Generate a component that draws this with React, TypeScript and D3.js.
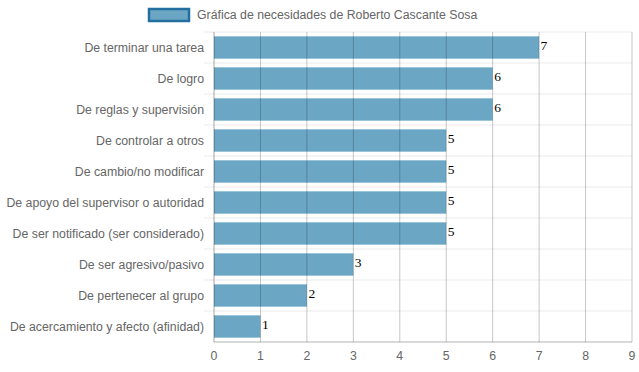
import React, {useEffect, useRef} from 'react';
import * as d3 from 'd3';

const categories = [
    'De terminar una tarea',
    'De logro',
    'De reglas y supervisión',
    'De controlar a otros',
    'De cambio/no modificar',
    'De apoyo del supervisor o autoridad',
    'De ser notificado (ser considerado)',
    'De ser agresivo/pasivo',
    'De pertenecer al grupo',
    'De acercamiento y afecto (afinidad)'
];
const values = [7, 6, 6, 5, 5, 5, 5, 3, 2, 1];
const xTicks = [0, 1, 2, 3, 4, 5, 6, 7, 8, 9];
const seriesName = 'Gráfica de necesidades de Roberto Cascante Sosa';

const W = 639;
const H = 372;
const margin = {top: 32, right: 7, bottom: 30, left: 214};
const FONT = '"Liberation Sans", Arial, sans-serif';

export default function App() {
    const ref = useRef<SVGSVGElement>(null);

    useEffect(() => {
        const svg = d3.select(ref.current);
        svg.selectAll('*').remove();

        const x = d3.scaleLinear().domain([0, 9]).range([margin.left, W - margin.right]);
        const y = d3.scaleBand<string>().domain(categories).range([margin.top, H - margin.bottom]);
        const barH = y.bandwidth() * 0.72;

        // horizontal gridlines (band boundaries), extending to the left as ticks
        const bounds = categories.map(c => y(c) as number);
        svg.append('g')
            .selectAll('line')
            .data(bounds)
            .enter()
            .append('line')
            .attr('x1', margin.left - 10)
            .attr('x2', W - margin.right)
            .attr('y1', d => d)
            .attr('y2', d => d)
            .attr('stroke', 'rgba(0,0,0,0.08)')
            .attr('stroke-width', 1);

        // bars
        svg.append('g')
            .selectAll('rect')
            .data(values)
            .enter()
            .append('rect')
            .attr('x', x(0))
            .attr('y', (_, i) => (y(categories[i]) as number) + (y.bandwidth() - barH) / 2)
            .attr('width', d => x(d) - x(0))
            .attr('height', barH)
            .attr('fill', 'rgba(44,130,172,0.7)');

        // vertical gridlines, drawn over the bars
        svg.append('g')
            .selectAll('line')
            .data(xTicks)
            .enter()
            .append('line')
            .attr('x1', d => x(d))
            .attr('x2', d => x(d))
            .attr('y1', margin.top)
            .attr('y2', H - margin.bottom)
            .attr('stroke', d => d === 0 ? 'rgba(0,0,0,0.35)' : 'rgba(0,0,0,0.22)')
            .attr('stroke-width', 1);

        // x axis line
        svg.append('line')
            .attr('x1', margin.left)
            .attr('x2', W - margin.right)
            .attr('y1', H - margin.bottom)
            .attr('y2', H - margin.bottom)
            .attr('stroke', 'rgba(0,0,0,0.3)');

        // x tick labels
        svg.append('g')
            .selectAll('text')
            .data(xTicks)
            .enter()
            .append('text')
            .attr('x', d => x(d))
            .attr('y', H - margin.bottom + 18)
            .attr('text-anchor', 'middle')
            .style('font-family', FONT)
            .style('font-size', '12.3px')
            .style('fill', '#666')
            .text(d => d);

        // category labels
        svg.append('g')
            .selectAll('text')
            .data(categories)
            .enter()
            .append('text')
            .attr('x', margin.left - 10)
            .attr('y', d => (y(d) as number) + y.bandwidth() / 2)
            .attr('dy', '0.35em')
            .attr('text-anchor', 'end')
            .style('font-family', FONT)
            .style('font-size', '12.3px')
            .style('fill', '#666')
            .text(d => d);

        // value labels
        svg.append('g')
            .selectAll('text')
            .data(values)
            .enter()
            .append('text')
            .attr('x', d => x(d) + 1.5)
            .attr('y', (_, i) => (y(categories[i]) as number) + y.bandwidth() / 2 - 2.5)
            .attr('dy', '0.35em')
            .style('font-family', '"Liberation Serif", "Times New Roman", serif')
            .style('font-size', '13.5px')
            .style('fill', '#000')
            .text(d => d);

        // legend
        const legend = svg.append('g');
        legend.append('rect')
            .attr('x', 149)
            .attr('y', 9)
            .attr('width', 40)
            .attr('height', 12)
            .attr('fill', 'rgba(44,130,172,0.7)')
            .attr('stroke', 'rgb(35,112,160)')
            .attr('stroke-width', 2.5);
        legend.append('text')
            .attr('x', 197)
            .attr('y', 15)
            .attr('dy', '0.35em')
            .style('font-family', FONT)
            .style('font-size', '12.3px')
            .style('fill', '#666')
            .text(seriesName);
    }, []);

    return (
        <svg ref={ref} width={W} height={H}
             style={{position: 'absolute', left: 0, top: 0, background: '#fff'}}/>
    );
}
